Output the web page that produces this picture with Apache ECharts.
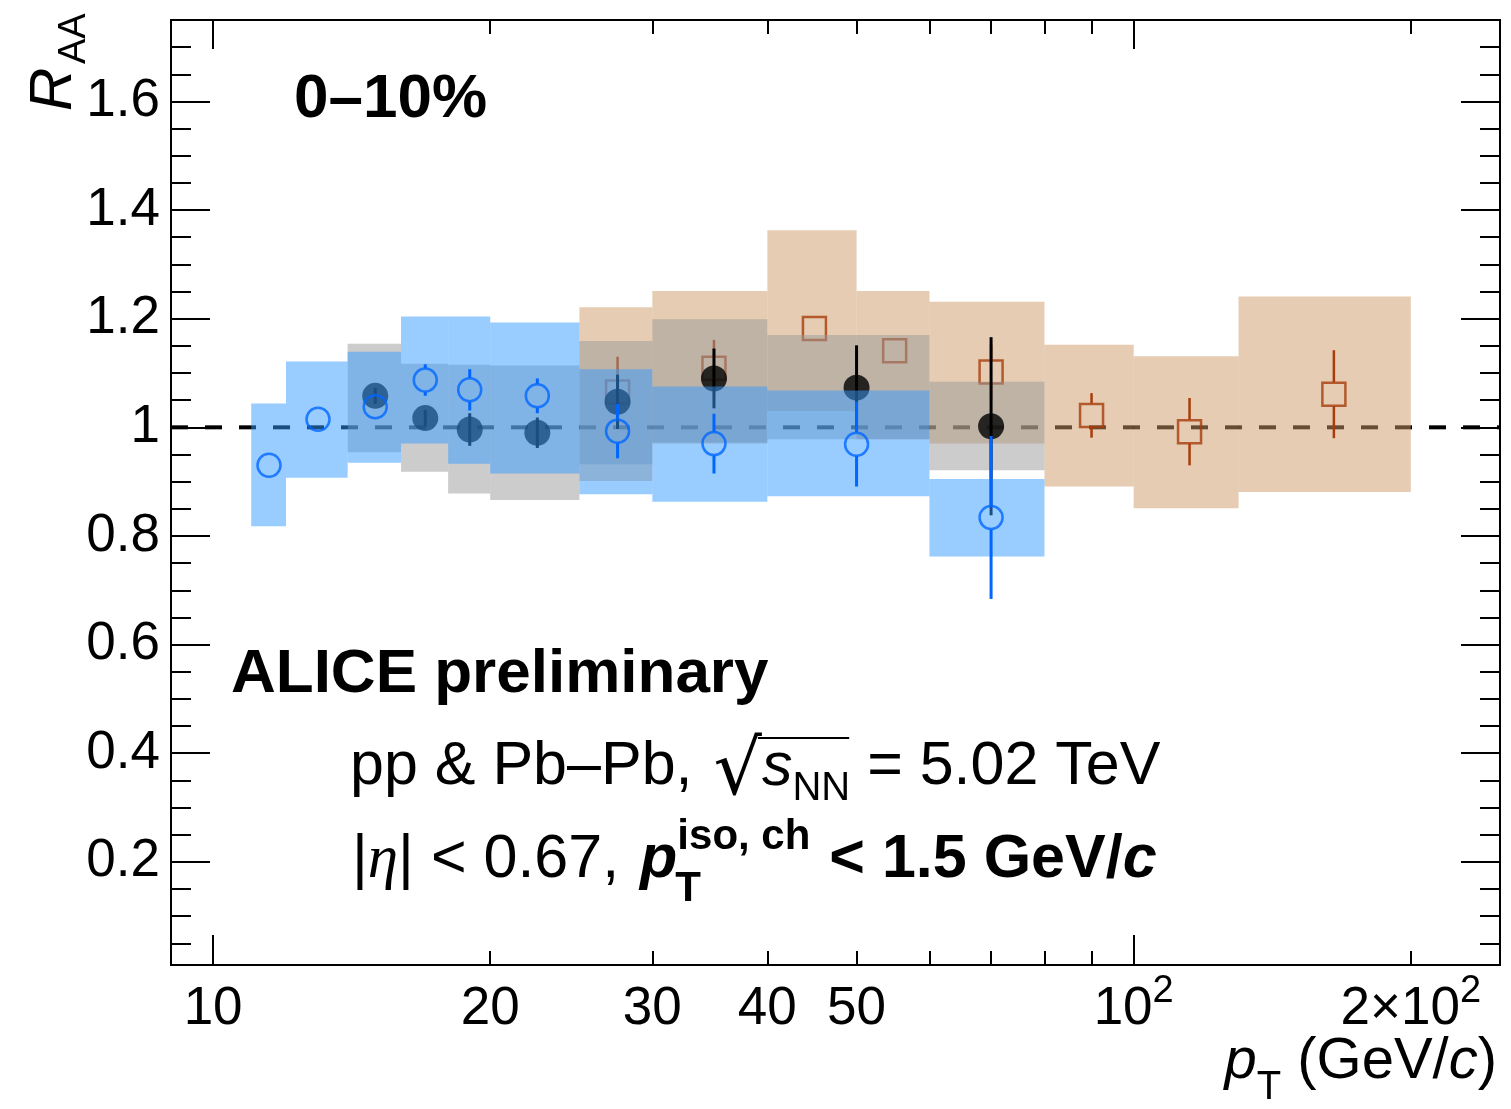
<!DOCTYPE html>
<html>
<head>
<meta charset="utf-8">
<script src="https://cdn.jsdelivr.net/npm/echarts@6/dist/echarts.min.js"></script>
<style>
  html, body { margin: 0; padding: 0; background: #fff; }
  #chart { width: 1511px; height: 1109px; }
</style>
</head>
<body>
<div id="chart"></div>
<script>
// R_AA vs pT, 0-10%: three data sets, each with stat. error bars and syst. boxes

// black full circles
const blackPt = [15, 17, 19, 22.5, 27.5, 35, 50, 70];
const blackRaa = [1.058, 1.017, 0.996, 0.990, 1.047, 1.090, 1.073, 1.002];
const blackStat = [0.015, 0.015, 0.03, 0.028, 0.05, 0.055, 0.078, 0.164];
const blackBinLo = [14, 16, 18, 20, 25, 30, 40, 60];
const blackBinHi = [16, 18, 20, 25, 30, 40, 60, 80];
const blackSysLo = [0.954, 0.918, 0.878, 0.866, 0.932, 0.972, 0.978, 0.921];
const blackSysHi = [1.154, 1.117, 1.115, 1.114, 1.159, 1.199, 1.170, 1.084];

// blue open circles
const bluePt = [11.5, 13, 15, 17, 19, 22.5, 27.5, 35, 50, 70];
const blueRaa = [0.930, 1.015, 1.038, 1.087, 1.069, 1.058, 0.993, 0.970, 0.969, 0.834];
const blueStat = [0.015, 0.015, 0.015, 0.029, 0.038, 0.032, 0.05, 0.055, 0.078, 0.15];
const blueBinLo = [11, 12, 14, 16, 18, 20, 25, 30, 40, 60];
const blueBinHi = [12, 14, 16, 18, 20, 25, 30, 40, 60, 80];
const blueSysLo = [0.818, 0.907, 0.935, 0.970, 0.933, 0.915, 0.877, 0.863, 0.873, 0.762];
const blueSysHi = [1.044, 1.121, 1.139, 1.204, 1.204, 1.193, 1.107, 1.075, 1.068, 0.905];

// orange open squares
const orangePt = [27.5, 35, 45, 55, 70, 90, 115, 165];
const orangeRaa = [1.065, 1.109, 1.182, 1.141, 1.102, 1.022, 0.992, 1.061];
const orangeStat = [0.065, 0.052, 0.015, 0.015, 0.05, 0.041, 0.062, 0.081];
const orangeBinLo = [25, 30, 40, 50, 60, 80, 100, 130];
const orangeBinHi = [30, 40, 50, 60, 80, 100, 130, 200];
const orangeSysLo = [0.901, 0.970, 1.030, 0.978, 0.970, 0.891, 0.851, 0.881];
const orangeSysHi = [1.221, 1.251, 1.363, 1.251, 1.231, 1.152, 1.131, 1.241];

const unity = 1;

// axes
const xMin = 9, xMax = 250;
const yMin = 0.01, yMax = 1.75;
const xMajorTicks = [10, 100];
const xMinorTicks = [20, 30, 40, 50, 60, 70, 80, 90, 200];
const xLabelValues = [10, 20, 30, 40, 50, 100, 200];
const yLabelValues = [0.2, 0.4, 0.6, 0.8, 1, 1.2, 1.4, 1.6];
const yMinorTicks = [0.05, 0.1, 0.15, 0.25, 0.3, 0.35, 0.45, 0.5, 0.55, 0.65, 0.7, 0.75,
  0.85, 0.9, 0.95, 1.05, 1.1, 1.15, 1.25, 1.3, 1.35, 1.45, 1.5, 1.55, 1.65, 1.7];

const FONT = 'Liberation Sans';

function boxSeries(lo, hi, sLo, sHi, color, z) {
  return {
    type: 'custom',
    z: z,
    silent: true,
    data: lo.map((v, i) => [v, hi[i], sLo[i], sHi[i]]),
    encode: { x: [0, 1], y: [2, 3] },
    renderItem: (params, api) => {
      const p0 = api.coord([api.value(0), api.value(3)]);
      const p1 = api.coord([api.value(1), api.value(2)]);
      return {
        type: 'rect',
        shape: { x: p0[0], y: p0[1], width: p1[0] - p0[0], height: p1[1] - p0[1] },
        style: { fill: color }
      };
    }
  };
}

function errSeries(pt, val, err, color, gap, width, z) {
  return {
    type: 'custom',
    z: z,
    silent: true,
    data: pt.map((v, i) => [v, val[i], err[i]]),
    encode: { x: 0, y: 1 },
    renderItem: (params, api) => {
      const x = api.value(0), y = api.value(1), e = api.value(2);
      const top = api.coord([x, y + e]);
      const mid = api.coord([x, y]);
      const bot = api.coord([x, y - e]);
      const kids = [];
      if (mid[1] - gap > top[1]) {
        kids.push({ type: 'line', shape: { x1: mid[0], y1: top[1], x2: mid[0], y2: mid[1] - gap },
          style: { stroke: color, lineWidth: width } });
      }
      if (bot[1] > mid[1] + gap) {
        kids.push({ type: 'line', shape: { x1: mid[0], y1: mid[1] + gap, x2: mid[0], y2: bot[1] },
          style: { stroke: color, lineWidth: width } });
      }
      return { type: 'group', children: kids };
    }
  };
}

function pointSeries(pt, val, symbol, size, style, z) {
  return {
    type: 'scatter',
    z: z,
    silent: true,
    symbol: symbol,
    symbolSize: size,
    data: pt.map((v, i) => [v, val[i]]),
    itemStyle: style,
    emphasis: { disabled: true }
  };
}

const axisLine = { show: true, onZero: false, lineStyle: { color: '#000', width: 2 } };
const tickStyle = { color: '#000', width: 2 };

function xAxis(pos, ticks, len, withLabels) {
  return {
    type: 'log', logBase: 10, min: xMin, max: xMax, position: pos,
    axisLine: axisLine,
    splitLine: { show: false },
    axisTick: { show: true, inside: true, length: len, lineStyle: tickStyle, customValues: ticks },
    axisLabel: withLabels ? {
      show: true, customValues: xLabelValues, margin: 16, color: '#000',
      fontFamily: FONT, fontSize: 53,
      formatter: v => v === 100 ? '{a|10}{s|2}' : v === 200 ? '{a|2×10}{s|2}' : '{a|' + v + '}',
      rich: {
        a: { fontFamily: FONT, fontSize: 53, color: '#000', lineHeight: 56 },
        s: { fontFamily: FONT, fontSize: 38, color: '#000', lineHeight: 56, padding: [0, 0, 34, 0] }
      }
    } : { show: false }
  };
}

function yAxis(pos, ticks, len, withLabels) {
  return {
    type: 'value', min: yMin, max: yMax, position: pos,
    axisLine: axisLine,
    splitLine: { show: false },
    axisTick: { show: true, inside: true, length: len, lineStyle: tickStyle, customValues: ticks },
    axisLabel: withLabels ? {
      show: true, customValues: yLabelValues, margin: 11, color: '#000',
      fontFamily: FONT, fontSize: 53
    } : { show: false }
  };
}

// text helpers
const mctx = document.createElement('canvas').getContext('2d');
function fontOf(p) {
  return (p.i ? 'italic ' : 'normal ') + (p.b ? 'bold ' : 'normal ') + p.s + 'px "' + (p.f || FONT) + '"';
}
function widthOf(p) { mctx.font = fontOf(p); return mctx.measureText(p.t).width; }
function textEl(x, base, p, extra) {
  return Object.assign({
    type: 'text', x: x, y: base + (p.dy || 0) - 0.35 * p.s, z: 100, silent: true,
    style: {
      text: p.t, fill: '#000', fontSize: p.s, fontFamily: p.f || FONT,
      fontWeight: p.b ? 'bold' : 'normal', fontStyle: p.i ? 'italic' : 'normal',
      align: 'left', verticalAlign: 'middle'
    }
  }, extra || {});
}
// lay out pieces of one text line; returns elements and the x positions
function flow(x0, base, parts) {
  let x = x0;
  const els = [], xs = [];
  parts.forEach(p => {
    xs.push(x);
    els.push(textEl(x, base, p));
    x += widthOf(p) + (p.gap || 0);
  });
  xs.push(x);
  return { els: els, xs: xs };
}

const graphics = [];

// 0-10%
graphics.push(...flow(294, 122, [{ t: '0–10%', s: 62, b: 1 }]).els);
// ALICE preliminary
graphics.push(...flow(231, 697, [{ t: 'ALICE preliminary', s: 62, b: 1 }]).els);

// pp & Pb-Pb, sqrt(s_NN) = 5.02 TeV
const rad = { t: '√', s: 76, f: 'DejaVu Sans', dy: 12 };
const l2 = flow(350, 789, [
  { t: 'pp & Pb–Pb, ', s: 61, gap: 4 },
  rad,
  { t: 's', s: 61, i: 1 },
  { t: 'NN', s: 40, dy: 14 },
  { t: ' = 5.02 TeV', s: 61 }
]);
graphics.push(...l2.els);
graphics.push({
  type: 'line', z: 100, silent: true,
  shape: { x1: l2.xs[1] + widthOf(rad) - 4, y1: 738, x2: l2.xs[4] - 1, y2: 738 },
  style: { stroke: '#000', lineWidth: 2 }
});

// |eta| < 0.67, p_T^{iso, ch} < 1.5 GeV/c
const l3 = flow(352, 882, [
  { t: '|', s: 61 },
  { t: 'η', s: 61, i: 1, f: 'Liberation Serif' },
  { t: '| < 0.67, ', s: 61, gap: 4 },
  { t: 'p', s: 61, b: 1, i: 1 },
  { t: 'iso, ch', s: 42, b: 1, dy: -30, gap: 2 },
  { t: ' < 1.5 GeV/', s: 61, b: 1 },
  { t: 'c', s: 61, b: 1, i: 1 }
]);
graphics.push(...l3.els);
graphics.push(textEl(l3.xs[4] - 2, 882, { t: 'T', s: 42, b: 1, dy: 22 }));

// y title R_AA (rotated, reading upwards)
graphics.push(textEl(54, 0, { t: 'R', s: 60, i: 1 }, { x: 54, y: 111, rotation: Math.PI / 2 }));
graphics.push(textEl(74, 0, { t: 'AA', s: 38 }, { x: 75, y: 64, rotation: Math.PI / 2 }));

// x title p_T (GeV/c), right aligned
const xtParts = [
  { t: 'p', s: 58, i: 1 },
  { t: 'T', s: 40, dy: 20 },
  { t: ' (GeV/', s: 58 },
  { t: 'c', s: 58, i: 1 },
  { t: ')', s: 58 }
];
const xtWidth = xtParts.reduce((a, p) => a + widthOf(p), 0);
graphics.push(...flow(1497 - xtWidth, 1082, xtParts).els);

const option = {
  animation: false,
  backgroundColor: '#fff',
  grid: { left: 171, right: 11, top: 20, bottom: 144, containLabel: false, outerBoundsMode: 'none' },
  xAxis: [
    xAxis('bottom', xMajorTicks, 30, true),
    xAxis('bottom', xMinorTicks, 14, false),
    xAxis('top', xMajorTicks, 29, false),
    xAxis('top', xMinorTicks, 14, false)
  ],
  yAxis: [
    yAxis('left', yLabelValues, 39, true),
    yAxis('left', yMinorTicks, 20, false),
    yAxis('right', yLabelValues, 39, false),
    yAxis('right', yMinorTicks, 20, false)
  ],
  series: [
    {
      type: 'line', z: 1, silent: true, symbol: 'none',
      data: [[xMin, unity], [xMax, unity]],
      lineStyle: { color: '#000', width: 4, type: [17, 17] }
    },
    boxSeries(orangeBinLo, orangeBinHi, orangeSysLo, orangeSysHi, 'rgba(204,153,102,0.5)', 2),
    errSeries(orangePt, orangeRaa, orangeStat, '#a83c0c', 12, 2.5, 3),
    pointSeries(orangePt, orangeRaa, 'rect', 23,
      { color: 'rgba(0,0,0,0)', borderColor: '#a83c0c', borderWidth: 2.5 }, 4),
    boxSeries(blackBinLo, blackBinHi, blackSysLo, blackSysHi, 'rgba(153,153,153,0.5)', 5),
    errSeries(blackPt, blackRaa, blackStat, '#000', 0, 3, 6),
    pointSeries(blackPt, blackRaa, 'circle', 26, { color: '#000' }, 7),
    boxSeries(blueBinLo, blueBinHi, blueSysLo, blueSysHi, 'rgba(51,153,255,0.5)', 8),
    errSeries(bluePt, blueRaa, blueStat, '#0066ff', 12, 3, 9),
    pointSeries(bluePt, blueRaa, 'circle', 23,
      { color: 'rgba(0,0,0,0)', borderColor: '#0066ff', borderWidth: 2.5 }, 10)
  ],
  graphic: graphics
};

const chart = echarts.init(document.getElementById('chart'));
chart.setOption(option);
</script>
</body>
</html>
